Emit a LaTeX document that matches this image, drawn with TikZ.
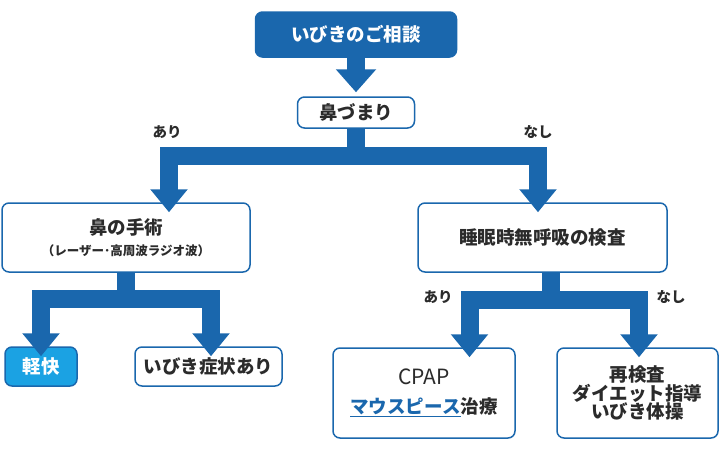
\documentclass[tikz,border=0pt]{standalone}
\usepackage{fontspec}
\setmainfont{Noto Sans CJK JP}
\usetikzlibrary{arrows.meta}
\definecolor{flowblue}{HTML}{1A67AD}
\definecolor{lightblue}{HTML}{1BA2E3}
\definecolor{textgray}{HTML}{2B2B2B}

\begin{document}
\begin{tikzpicture}[x=1pt, y=-1pt,
	box/.style={draw=flowblue, line width=1.5pt, rounded corners=7pt, fill=white, text=textgray,
		font=\fontsize{18.5}{18.5}\selectfont\bfseries, align=center, inner sep=0pt},
	fork/.style={draw=flowblue, line width=18pt, line join=miter,
		-{Triangle[width=36pt, length=23pt]}, shorten >=-10pt},
	branch/.style={text=textgray, font=\fontsize{14.5}{14.5}\selectfont\bfseries}]
	\useasboundingbox (0, 0) rectangle (720, 450);
	
	\node[box, fill=flowblue, text=white, minimum width=201pt, minimum height=45pt] (consult) at (356, 34.5) {いびきのご相談};
	\node[box, minimum width=117pt, minimum height=31pt] (nose) at (356, 112.5) {鼻づまり};
	
	\node[box, minimum width=248pt, minimum height=69pt] (surgery) at (126, 237.5)
		{鼻の手術\\[3pt]{\fontsize{12.5}{12.5}\selectfont （レーザー･高周波ラジオ波）}};
	\node[box, minimum width=249pt, minimum height=69pt] (sleep) at (542.5, 237.5) {睡眠時無呼吸の検査};
	
	\node[box, fill=lightblue, text=white, minimum width=72pt, minimum height=39pt] (relief) at (41, 366.5) {軽快};
	\node[box, minimum width=147pt, minimum height=39pt] (snore) at (208.5, 366.5) {いびき症状あり};
	\node[box, minimum width=182pt, minimum height=90pt] (cpap) at (424, 393)
		{{\fontsize{21}{21}\selectfont\mdseries CPAP}\\[10pt]{\color{flowblue}\underline{マウスピース}}治療};
	\node[box, minimum width=161pt, minimum height=90pt] (retest) at (637.5, 393) {再検査\\ダイエット指導\\いびき体操};
	
	% arrows
	\draw[fork, -{Triangle[width=39pt, length=23pt]}, shorten >=4pt] (consult) -- (nose);
	\draw[fork] (nose.south) -- ++(0, 27) -| ([xshift=43pt]surgery.north);
	\draw[fork] (nose.south) -- ++(0, 27) -| ([xshift=-4.5pt]sleep.north);
	\draw[fork] (surgery.south) -- ++(0, 26.5) -| (relief.north);
	\draw[fork] (surgery.south) -- ++(0, 26.5) -| ([xshift=2.5pt]snore.north);
	\draw[fork] ([xshift=8pt]sleep.south) -- ++(0, 27) -| ([xshift=45.5pt]cpap.north);
	\draw[fork] ([xshift=8pt]sleep.south) -- ++(0, 27) -| ([xshift=1.5pt]retest.north);
	
	\node[branch] (nose-yes) at (167, 132) {あり};
	\node[branch] (nose-no) at (538, 132) {なし};
	\node[branch] (sleep-yes) at (438, 297) {あり};
	\node[branch] (sleep-no) at (671, 297) {なし};
\end{tikzpicture}
\end{document}
